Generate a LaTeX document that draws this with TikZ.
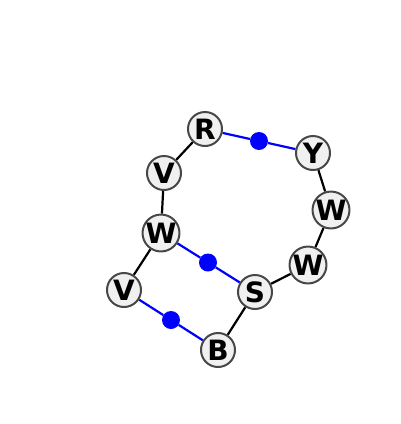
\documentclass[tikz,border=0pt]{standalone}
\usepackage{fontspec}
\setsansfont{DejaVu Sans}
\usetikzlibrary{calc,backgrounds}
\begin{document}
\begin{tikzpicture}[
	                   x = 1pt,
	                   y = -1pt,
	       atom/.style = {circle, draw=black!72, line width=2pt, fill=black!6,
	                      minimum size=34pt, inner sep=0pt,
	                      font=\sffamily\bfseries\fontsize{28}{28}\selectfont},
	       bond/.style = {draw, line width=2.2pt},
	    special/.style = {bond, blue},
	        dot/.style = {circle, fill=blue, minimum size=18pt, inner sep=0pt},
	                     ]
		\useasboundingbox (0,0) rectangle (400,424);
		% ring atoms
		\node[atom] (r)  at (205,129) {R};
		\node[atom] (y)  at (313,153) {Y};
		\node[atom] (w1) at (331,210) {W};
		\node[atom] (w2) at (308,265) {W};
		\node[atom] (s)  at (255,292) {S};
		\node[atom] (b)  at (218,350) {B};
		\node[atom] (v2) at (124,290) {V};
		\node[atom] (w3) at (161,233) {W};
		\node[atom] (v1) at (164,173) {V};
		% midpoints of the blue bonds
		\node[dot] (d1) at ($(r)!0.5!(y)$) {};
		\node[dot] (d2) at ($(w3)!0.5!(s)$) {};
		\node[dot] (d3) at ($(v2)!0.5!(b)$) {};
		% bonds
		\begin{scope}[on background layer]
		\draw[bond] (r) -- (v1) -- (w3) -- (v2);
		\draw[bond] (b) -- (s) -- (w2) -- (w1) -- (y);
		\draw[special] (r) -- (d1) -- (y);
		\draw[special] (w3) -- (d2) -- (s);
		\draw[special] (v2) -- (d3) -- (b);
		\end{scope}
	\end{tikzpicture}
\end{document}
